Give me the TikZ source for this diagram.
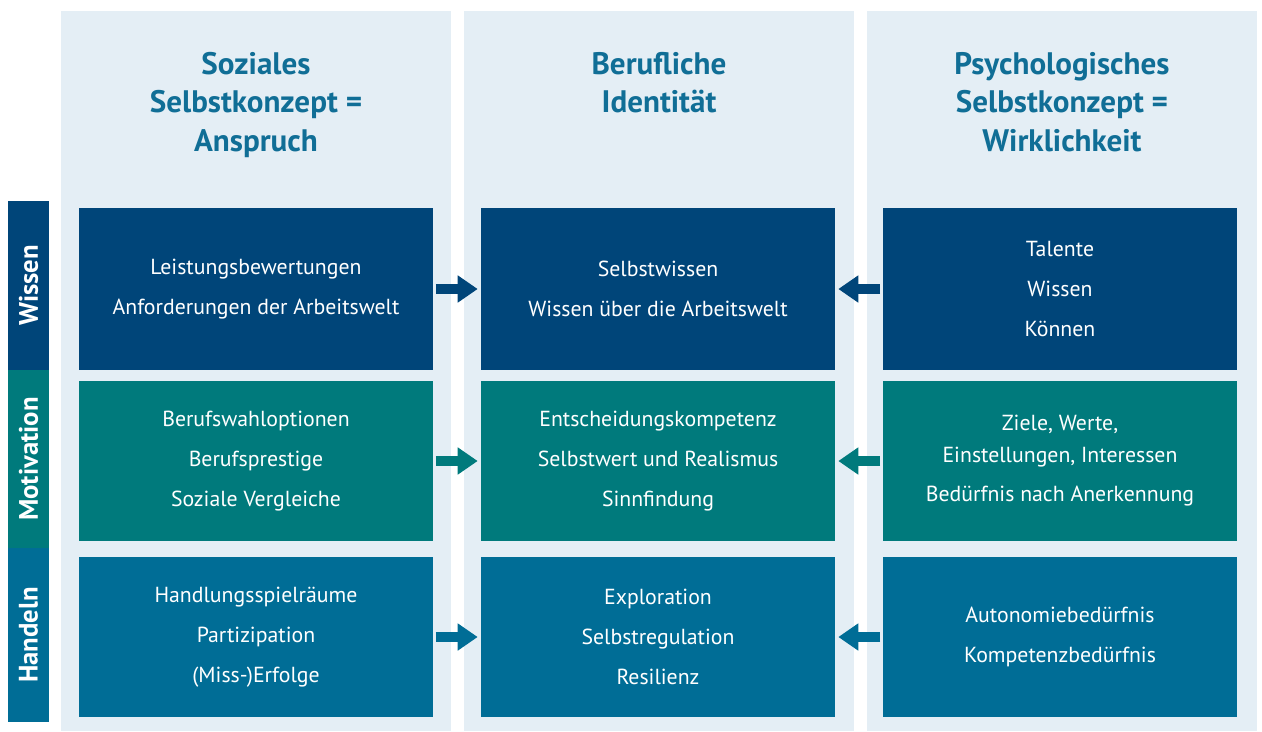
\documentclass[tikz,border=0pt]{standalone}
\usepackage{fontspec}
\setmainfont{PT Sans}
\usepackage{tikz}
\usetikzlibrary{arrows.meta}

\definecolor{wissenblue}{RGB}{0,69,121}
\definecolor{motivteal}{RGB}{0,122,124}
\definecolor{handelnblue}{RGB}{0,109,150}
\definecolor{lightbg}{RGB}{228,238,245}
\definecolor{headblue}{RGB}{16,110,150}

\begin{document}
\begin{tikzpicture}[x=0.02cm, y=-0.02cm]

\tikzstyle{column} = [rectangle, fill=lightbg, inner sep=0pt, minimum width=7.8cm, minimum height=14.4cm]
\tikzstyle{heading} = [text=headblue, font=\bfseries\fontsize{17.7}{21.8}\selectfont, align=center, anchor=north, inner sep=0pt]
\tikzstyle{cell} = [rectangle, text=white, align=center, inner sep=0pt, minimum width=7.08cm, minimum height=3.2cm, font=\fontsize{12.4}{22.7}\selectfont]
\tikzstyle{rowlabel} = [rectangle, text=white, rotate=90, inner sep=0pt, minimum height=0.82cm, font=\bfseries\fontsize{15.2}{18}\selectfont]
\tikzstyle{arrow} = [line width=0.2cm, -{Triangle[length=0.4cm, width=0.52cm]}, shorten <=0.05cm, shorten >=0.06cm]

\useasboundingbox (0,0) rectangle (1262,731);

% columns
\node (c1) [column] at (256,371) {};
\node (c2) [column] at (659,371) {};
\node (c3) [column] at (1062,371) {};

\node (t1) [heading] at (256,52) {Soziales\\Selbstkonzept =\\Anspruch};
\node (t2) [heading] at (659,52) {Berufliche\\Identität};
\node (t3) [heading] at (1062,52) {Psychologisches\\Selbstkonzept =\\Wirklichkeit};

% row labels
\node (w) [rowlabel, fill=wissenblue, minimum width=3.38cm] at (28.5,285.5) {Wissen};
\node (m) [rowlabel, fill=motivteal, minimum width=3.56cm] at (28.5,459) {Motivation};
\node (h) [rowlabel, fill=handelnblue, minimum width=3.48cm] at (28.5,635) {Handeln};

% Wissen
\node (s1) [cell, fill=wissenblue, minimum height=3.24cm] at (256,289) {Leistungsbewertungen\\Anforderungen der Arbeitswelt};
\node (b1) [cell, fill=wissenblue, minimum height=3.24cm] at (658,289) {Selbstwissen\\Wissen über die Arbeitswelt};
\node (p1) [cell, fill=wissenblue, minimum height=3.24cm] at (1060,289) {Talente\\Wissen\\Können};

% Motivation
\node (s2) [cell, fill=motivteal] at (256,461) {Berufswahloptionen\\Berufsprestige\\Soziale Vergleiche};
\node (b2) [cell, fill=motivteal] at (658,461) {Entscheidungskompetenz\\Selbstwert und Realismus\\Sinnfindung};
\node (p2) [cell, fill=motivteal] at (1060,461) {Ziele, Werte,\\[-5pt]Einstellungen, Interessen\\Bedürfnis nach Anerkennung};

% Handeln
\node (s3) [cell, fill=handelnblue] at (256,637) {Handlungsspielräume\\Partizipation\\(Miss-)Erfolge};
\node (b3) [cell, fill=handelnblue] at (658,637) {Exploration\\Selbstregulation\\Resilienz};
\node (p3) [cell, fill=handelnblue] at (1060,637) {Autonomiebedürfnis\\Kompetenzbedürfnis};

\draw [arrow, wissenblue] (s1) -- (b1);
\draw [arrow, wissenblue] (p1) -- (b1);
\draw [arrow, motivteal] (s2) -- (b2);
\draw [arrow, motivteal] (p2) -- (b2);
\draw [arrow, handelnblue] (s3) -- (b3);
\draw [arrow, handelnblue] (p3) -- (b3);

\end{tikzpicture}
\end{document}
